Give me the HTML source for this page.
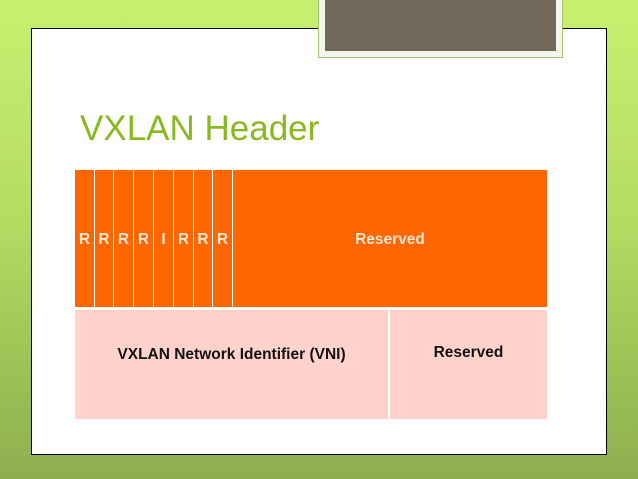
<!DOCTYPE html>
<html><head><style>
body{margin:0;width:638px;height:479px;overflow:hidden;position:relative;font-family:"Liberation Sans",sans-serif;
background:linear-gradient(180deg,#c8f070 0%,#b5dc62 45%,#9dc456 75%,#8eae50 100%);}
.slide{position:absolute;left:31px;top:28px;width:574px;height:425px;background:#fff;border:1px solid #000;}
.dark{position:absolute;left:318px;top:-4px;width:245px;height:62px;background:#f3f6ee;border:1px solid #a5c46a;box-sizing:border-box;}
.dark div{position:absolute;left:6px;top:0;right:6px;bottom:6px;background:#72685a;}
h1{position:absolute;left:80px;top:109px;margin:0;font-weight:normal;font-size:35px;color:#8ab820;}
.o{position:absolute;top:170px;height:137px;background:#ff6600;color:#fde8d8;font-weight:bold;font-size:15.5px;display:flex;align-items:center;justify-content:center;padding-top:2px;box-sizing:border-box;}
.p{position:absolute;top:310px;height:109px;background:#ffd3cc;color:#111;font-weight:bold;font-size:15.5px;}
</style></head><body>
<div class="slide"></div>
<div class="dark"><div></div></div>
<h1>VXLAN Header</h1>
<div class="o" style="left:75px;width:19px">R</div>
<div class="o" style="left:95px;width:18px">R</div>
<div class="o" style="left:114px;width:19px">R</div>
<div class="o" style="left:134px;width:19px">R</div>
<div class="o" style="left:154px;width:19px">I</div>
<div class="o" style="left:174px;width:19px">R</div>
<div class="o" style="left:194px;width:18px">R</div>
<div class="o" style="left:213px;width:19px">R</div>
<div class="o" style="left:233px;width:314px">Reserved</div>
<div class="p" style="left:75px;width:313px;"><div style="position:absolute;top:36px;width:100%;text-align:center">VXLAN Network Identifier (VNI)</div></div>
<div class="p" style="left:390px;width:157px;"><div style="position:absolute;top:34px;width:100%;text-align:center">Reserved</div></div>
</body></html>
